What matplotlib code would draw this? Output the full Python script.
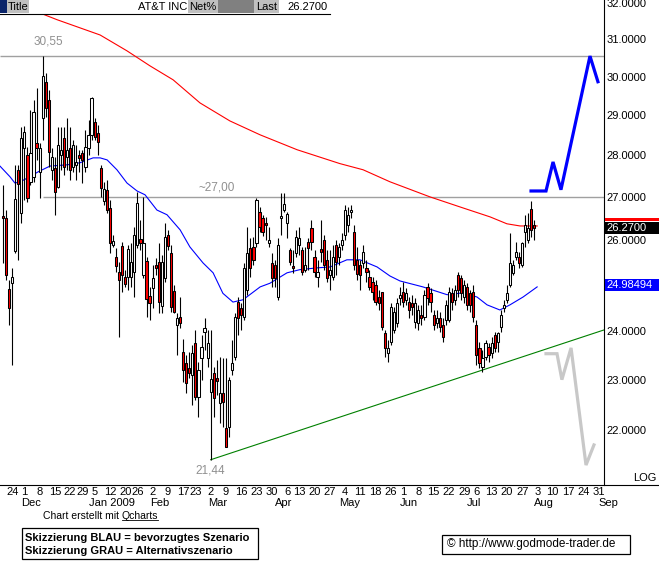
import numpy as np
import pandas as pd
import matplotlib
matplotlib.use("Agg")
import matplotlib.pyplot as plt
from matplotlib.patches import Rectangle
from matplotlib.lines import Line2D
from matplotlib.ticker import FixedLocator, NullLocator, NullFormatter, FixedFormatter

W, H, DPI = 659, 563, 100
plt.rcParams["font.family"] = ["Liberation Sans", "DejaVu Sans"]

# ------------------------------------------------------------------ data
market_holidays = ["2008-11-27", "2008-12-25", "2009-01-01", "2009-01-19",
                   "2009-02-16", "2009-04-10", "2009-05-25", "2009-07-03",
                   "2009-09-07"]
first_day = "2008-11-19"
last_axis_day = "2009-09-04"

opens = [26.56, 26.51, 24.90, 25.03, 25.75, 27.65, 26.62, 28.19, 28.01, 27.36,
         27.48, 28.31, 27.60, 28.94, 29.87, 29.40, 27.65, 27.70, 27.24, 28.01,
         28.43, 27.96, 28.19, 27.72, 27.77, 28.01, 28.06, 27.72, 28.19, 28.51,
         28.84, 28.56, 27.70, 26.91, 27.17, 26.74, 25.89, 25.62, 25.28, 25.86,
         25.17, 25.17, 25.17, 25.28, 25.89, 26.02, 25.22, 25.53, 24.76, 24.92,
         25.44, 25.51, 24.54, 25.15, 26.12, 25.71, 24.86, 24.13, 24.31, 23.57,
         23.34, 23.24, 23.10, 23.76, 22.66, 23.45, 23.99, 23.45, 22.76, 23.14,
         23.04, 22.54, 22.74, 22.05, 22.07, 23.20, 23.47, 24.62, 24.49, 24.31,
         24.88, 25.82, 25.84, 25.93, 26.65, 26.51, 26.39, 25.93, 25.48, 25.44,
         24.74, 26.51, 26.69, 26.39, 25.77, 25.42, 25.71, 25.89, 25.77, 25.33,
         25.96, 26.27, 25.62, 25.17, 25.80, 26.00, 25.55, 25.22, 25.17, 25.89,
         25.62, 25.89, 26.12, 26.34, 26.65, 26.18, 25.55, 25.44, 25.48, 25.37,
         25.17, 25.06, 24.99, 24.74, 24.84, 23.96, 23.55, 23.78, 24.03, 24.18,
         24.71, 24.84, 24.67, 24.62, 24.60, 24.20, 24.18, 24.35, 24.31, 24.94,
         24.82, 24.35, 24.18, 24.28, 24.13, 24.24, 24.24, 24.82, 24.67, 25.22,
         25.15, 24.74, 24.94, 24.82, 24.84, 24.13, 23.65, 23.26, 23.47, 23.67,
         23.55, 23.92, 23.78, 24.09, 24.49, 24.67, 24.99, 25.26, 25.62, 25.62,
         25.44, 26.18, 26.00, 26.72, 26.34]
highs = [27.29, 26.69, 25.10, 25.37, 27.77, 27.77, 28.71, 28.73, 28.21, 29.14,
         29.40, 29.71, 28.31, 30.55, 30.10, 29.66, 28.19, 27.96, 28.71, 28.71,
         28.71, 28.94, 28.71, 28.38, 28.26, 28.14, 28.14, 28.63, 28.89, 29.48,
         28.94, 28.76, 27.77, 27.36, 27.41, 26.93, 26.12, 25.82, 25.51, 25.96,
         25.33, 25.89, 25.93, 26.30, 27.12, 26.46, 27.00, 25.62, 24.94, 25.44,
         25.60, 25.93, 25.66, 26.39, 26.23, 25.89, 24.99, 24.39, 24.74, 23.84,
         23.51, 23.57, 23.71, 24.03, 23.36, 23.92, 24.28, 24.03, 24.03, 23.26,
         23.40, 23.47, 23.45, 23.45, 23.06, 23.82, 24.39, 24.74, 24.60, 25.48,
         26.30, 26.05, 26.07, 26.98, 26.76, 26.58, 26.53, 26.30, 25.71, 25.55,
         26.05, 27.10, 27.10, 26.65, 25.82, 25.77, 26.23, 26.30, 25.84, 25.84,
         26.05, 26.46, 25.77, 25.55, 26.46, 26.12, 25.77, 25.77, 25.89, 26.00,
         25.93, 26.16, 26.81, 26.76, 26.81, 26.34, 25.84, 25.55, 25.89, 25.55,
         25.33, 25.17, 25.10, 24.88, 24.84, 24.03, 23.82, 24.60, 24.51, 24.71,
         24.94, 25.06, 24.92, 24.74, 24.78, 24.71, 24.56, 24.56, 24.88, 25.03,
         24.92, 24.45, 24.45, 24.41, 24.28, 24.67, 24.94, 24.92, 24.99, 25.28,
         25.22, 25.10, 25.03, 24.88, 24.99, 24.24, 23.78, 23.61, 23.82, 23.76,
         23.88, 23.99, 23.99, 24.45, 24.67, 24.99, 26.16, 25.55, 25.96, 25.73,
         25.96, 26.58, 26.62, 26.91, 26.46]
lows = [25.48, 25.10, 24.13, 23.30, 25.71, 25.55, 26.39, 26.93, 26.88, 27.29,
        27.36, 27.89, 26.98, 28.38, 28.96, 27.72, 27.41, 26.58, 27.22, 27.65,
        27.53, 27.65, 27.41, 27.60, 27.41, 27.60, 27.34, 27.60, 28.01, 28.38,
        28.38, 28.01, 27.00, 26.81, 26.62, 25.71, 25.84, 25.28, 23.88, 24.84,
        24.94, 24.88, 24.94, 24.74, 25.82, 25.77, 25.15, 24.31, 24.24, 24.49,
        25.22, 24.39, 24.39, 25.06, 25.77, 24.41, 24.39, 23.51, 24.07, 22.96,
        22.74, 23.04, 22.50, 22.60, 22.26, 23.00, 23.61, 23.26, 21.44, 22.26,
        22.70, 22.15, 22.07, 21.68, 21.87, 23.10, 23.40, 23.92, 24.03, 24.24,
        24.78, 25.17, 25.44, 25.84, 26.18, 26.09, 26.00, 25.84, 24.94, 24.94,
        24.67, 26.12, 26.65, 26.05, 25.44, 25.26, 25.62, 25.66, 25.22, 25.28,
        25.33, 25.77, 25.17, 24.94, 25.51, 25.33, 25.06, 24.88, 25.10, 25.22,
        25.44, 25.77, 26.00, 26.18, 26.51, 25.33, 25.10, 24.88, 25.37, 25.06,
        24.88, 24.67, 24.56, 24.45, 24.03, 23.47, 23.36, 23.71, 23.96, 24.09,
        24.56, 24.51, 24.56, 24.28, 24.35, 24.07, 24.03, 24.13, 24.24, 24.56,
        24.41, 24.03, 24.07, 23.99, 23.78, 24.13, 24.20, 24.45, 24.56, 24.74,
        24.67, 24.60, 24.45, 24.41, 24.20, 23.30, 23.24, 23.16, 23.40, 23.36,
        23.45, 23.57, 23.57, 23.99, 24.41, 24.60, 24.94, 25.22, 25.55, 25.37,
        25.39, 25.84, 25.93, 26.07, 26.00]
closes = [26.51, 25.22, 24.49, 25.17, 26.95, 27.31, 28.43, 28.58, 26.98, 28.06,
          29.09, 28.19, 28.19, 30.02, 29.19, 28.09, 27.96, 27.12, 28.26, 28.14,
          27.72, 28.14, 27.65, 28.26, 27.84, 27.94, 27.89, 28.21, 28.51, 29.45,
          28.46, 28.33, 27.22, 27.19, 26.69, 25.93, 25.98, 25.42, 25.10, 25.22,
          25.01, 25.80, 25.51, 26.12, 26.86, 25.93, 25.93, 24.69, 24.60, 25.15,
          25.37, 24.62, 25.51, 26.07, 25.86, 24.51, 24.41, 24.28, 24.18, 23.20,
          22.94, 23.14, 23.55, 22.66, 23.20, 23.67, 24.07, 23.76, 23.02, 22.64,
          22.98, 22.74, 22.56, 21.68, 23.00, 23.34, 24.31, 24.28, 24.35, 25.37,
          25.71, 25.37, 25.55, 26.93, 26.30, 26.18, 26.34, 26.00, 25.15, 25.15,
          25.89, 26.56, 26.84, 26.60, 25.51, 25.37, 26.07, 26.05, 25.28, 25.44,
          25.82, 25.96, 25.28, 25.28, 25.73, 25.44, 25.15, 25.33, 25.62, 25.51,
          25.84, 26.00, 26.69, 26.58, 26.69, 25.44, 25.24, 25.22, 25.73, 25.28,
          24.94, 24.84, 24.62, 24.60, 24.09, 23.65, 23.65, 24.51, 24.41, 24.60,
          24.78, 24.62, 24.82, 24.45, 24.51, 24.60, 24.45, 24.28, 24.78, 24.71,
          24.62, 24.13, 24.28, 24.09, 23.88, 24.56, 24.84, 24.62, 24.88, 24.88,
          24.82, 24.99, 24.56, 24.56, 24.31, 23.51, 23.34, 23.45, 23.76, 23.51,
          23.76, 23.65, 23.96, 24.35, 24.56, 24.82, 25.48, 25.44, 25.73, 25.48,
          25.93, 26.34, 26.27, 26.23, 26.27]

# moving averages (trading-day position, value)
ma200_pos = [-1.0, 13.8, 17.7, 31.8, 40.6, 48.1, 55.7, 64.5, 74.3, 84.2, 96.3,
             110.3, 117.9, 126.7, 139.8, 150.6, 159.5, 165.0, 169.3, 174.9]
ma200_val = [32.18, 31.67, 31.54, 31.12, 30.69, 30.29, 29.92, 29.32, 28.86,
             28.51, 28.14, 27.80, 27.65, 27.36, 27.00, 26.74, 26.53, 26.37,
             26.32, 26.32]
ma50_pos = [-1.0, 2.3, 3.9, 5.6, 8.8, 11.5, 15.4, 21.0, 25.2, 29.5, 31.8, 34.1,
            37.3, 40.6, 43.9, 46.5, 50.4, 53.7, 58.0, 61.2, 65.5, 68.8, 72.0,
            75.3, 78.6, 84.2, 87.4, 93.0, 97.2, 102.8, 107.1, 112.6, 116.9,
            122.5, 126.7, 130.0, 137.5, 145.4, 150.6, 155.2, 158.5, 162.7,
            166.0, 170.3, 174.9]
ma50_val = [27.74, 27.48, 27.33, 27.36, 27.48, 27.60, 27.74, 27.77, 27.82,
            27.94, 27.94, 27.89, 27.65, 27.33, 27.14, 27.05, 26.69, 26.58,
            26.23, 25.84, 25.48, 25.26, 24.81, 24.62, 24.67, 24.95, 25.03,
            25.26, 25.33, 25.37, 25.39, 25.55, 25.55, 25.39, 25.19, 25.08,
            24.95, 24.78, 24.82, 24.73, 24.56, 24.45, 24.56, 24.73, 24.95]

trend_pos = [68, 197]
trend_val = [21.44, 24.03]

level_top = 30.55
level_mid = 27.00

blue_path_pos = [172.9, 177.8, 180.1, 182.7, 192.2, 194.8]
blue_path_val = [27.14, 27.14, 27.84, 27.17, 30.55, 29.87]
gray_path_pos = [177.8, 181.4, 183.0, 186.0, 190.9, 193.5]
gray_path_val = [23.53, 23.53, 23.00, 23.65, 21.34, 21.72]

price_ticks = [22, 23, 24, 26, 27, 28, 29, 30, 31, 32]
last_price = 26.27
ma50_last = 24.98494
ma200_marker = 26.47

title_name = "AT&T INC"
month_names = {12: "Dec", 1: "Jan 2009", 2: "Feb", 3: "Mar", 4: "Apr",
               5: "May", 6: "Jun", 7: "Jul", 8: "Aug", 9: "Sep"}

# ------------------------------------------------------------------ figure
fig = plt.figure(figsize=(W / DPI, H / DPI), dpi=DPI)
fig.patch.set_facecolor("white")
ax = fig.add_axes([0, 1 - 485 / H, 604 / W, 485 / H])
ax.set_yscale("log")
ax.set_ylim(20.97, 32.09)
ax.set_xlim(-0.98, 196.79)
ax.set_facecolor("white")

for s in ["top", "left", "bottom"]:
    ax.spines[s].set_visible(False)
ax.spines["right"].set_color("black")
ax.spines["right"].set_linewidth(0.8)

FS = 8
ax.yaxis.tick_right()
ax.yaxis.set_major_locator(FixedLocator(price_ticks))
ax.yaxis.set_major_formatter(FixedFormatter(["%.4f" % v for v in price_ticks]))
ax.yaxis.set_minor_locator(NullLocator())
ax.yaxis.set_minor_formatter(NullFormatter())
ax.tick_params(axis="y", length=0, pad=1.5, labelsize=FS, colors="black")
ax.set_xticks([])

# trading calendar
cal = pd.bdate_range(first_day, last_axis_day, freq="C", holidays=market_holidays)
n = len(opens)
xs = np.arange(n)
o = np.array(opens); h = np.array(highs); l = np.array(lows); c = np.array(closes)

# levels
ax.hlines(level_top, -0.98, 196.79, color="#a0a0a0", lw=1.0, zorder=1)
imax = int(np.argmax(h))
imin = int(np.argmin(l))
ax.hlines(level_mid, imax, 196.79, color="#a0a0a0", lw=1.0, zorder=1)

# moving averages
ax.plot(ma200_pos, ma200_val, color="#ff0000", lw=0.8, zorder=2)
ax.plot(ma50_pos, ma50_val, color="#0000ff", lw=0.8, zorder=2)

# trend line
ax.plot(trend_pos, trend_val, color="#008000", lw=0.8, zorder=2)

# candles
ax.vlines(xs, l, h, color="black", lw=0.8, zorder=3)
up = c >= o
bot = np.minimum(o, c)
top = np.maximum(o, c)
ax.bar(xs, top - bot, bottom=bot, width=0.72,
       color=np.where(up, "white", "#ff0000"), edgecolor="black",
       linewidth=0.75, zorder=4)

# scenario sketches
ax.plot(blue_path_pos, blue_path_val, color="#0000ff", lw=2.3, zorder=5,
        solid_joinstyle="miter")
ax.plot(gray_path_pos, gray_path_val, color="#c8c8c8", lw=2.3, zorder=5,
        solid_joinstyle="miter")

# level labels
gray_txt = "#909090"
ax.annotate("30,55", (imax, h[imax]), xytext=(6, 15), textcoords="offset pixels",
            ha="center", va="center", color=gray_txt, fontsize=8.5)
ax.annotate("~27,00", (imin + 1, level_mid), xytext=(3, 9), textcoords="offset pixels",
            ha="center", va="center", color=gray_txt, fontsize=8.5)
ax.annotate("21,44", (imin, l[imin]), xytext=(0, -11), textcoords="offset pixels",
            ha="center", va="center", color=gray_txt, fontsize=8.5)

# date labels
xt = ax.get_xaxis_transform()
dates = list(cal)
prev = None
for i, d in enumerate(dates):
    if prev is not None and d.weekday() < prev.weekday():
        ax.annotate(str(d.day), (i, 0), xycoords=xt, xytext=(0, -7),
                    textcoords="offset pixels", ha="center", va="center",
                    fontsize=FS, annotation_clip=False)
    if prev is not None and d.month != prev.month:
        ax.annotate(month_names[d.month], (i, 0), xycoords=xt, xytext=(-3, -18),
                    textcoords="offset pixels", ha="left", va="center",
                    fontsize=FS, annotation_clip=False)
    prev = d

# ------------------------------------------------------------------ figure-level decorations
def fx(x):
    return x / W

def fy(y):
    return 1 - y / H

def rect(x0, y0, x1, y1, fc, ec="none", lw=0, z=5):
    fig.patches.append(Rectangle((fx(x0), fy(y1)), (x1 - x0) / W, (y1 - y0) / H,
                                 transform=fig.transFigure, facecolor=fc,
                                 edgecolor=ec, linewidth=lw, zorder=z))

def hline(x0, x1, y, color="black", lw=0.8, z=6):
    fig.lines.append(Line2D([fx(x0), fx(x1)], [fy(y), fy(y)], transform=fig.transFigure,
                            color=color, lw=lw, zorder=z))

def txt(x, y, s, **kw):
    kw.setdefault("fontsize", FS)
    kw.setdefault("va", "center")
    kw.setdefault("zorder", 7)
    return fig.text(fx(x), fy(y), s, **kw)

# header
rect(0, 0, 330, 14, "white")
rect(0, 0, 7, 13, "#0a246a")
rect(7, 0, 29, 13, "#c0c0c0")
txt(8, 7, "Title")
txt(187, 7, title_name, ha="right")
rect(188, 0, 218, 13, "#c0c0c0")
txt(189, 7, "Net%")
rect(218, 0, 254, 13, "#808080")
rect(254, 0, 279, 13, "#c0c0c0")
txt(256, 7, "Last")
txt(328, 7, "%.4f" % last_price, ha="right")
hline(0, 330, 14)

# bottom axis line, LOG label
hline(0, W, 485)
txt(656, 478, "LOG", ha="right")

# value boxes on the right axis
fig.canvas.draw()
def ypix(v):
    return H - ax.transData.transform((0, v))[1]

ym = ypix(ma200_marker)
rect(605, ym - 1.5, W, ym + 1.5, "#ff0000")
yl = ypix(last_price)
rect(605, yl - 6, W, yl + 6, "black")
txt(606, yl, "%.4f" % last_price, color="white")
yb = ypix(ma50_last)
rect(605, yb - 6, W, yb + 6, "#0000ff")
txt(606, yb, "%.5f" % ma50_last, color="white")

# footer
t1 = txt(43, 516, "Chart erstellt mit ", fontsize=7.5)
t2 = txt(43, 516, "Qcharts", fontsize=7.5)
fig.canvas.draw()
r = fig.canvas.get_renderer()
bb1 = t1.get_window_extent(r)
t2.set_x(bb1.x1 / W)
bb2 = t2.get_window_extent(r)
fig.lines.append(Line2D([bb2.x0 / W, bb2.x1 / W], [(bb2.y0 + 1) / H] * 2,
                        transform=fig.transFigure, color="black", lw=0.6))

rect(22, 528, 258, 559, "none", ec="black", lw=0.9)
txt(25, 538, "Skizzierung BLAU = bevorzugtes Szenario", fontweight="bold", fontsize=8)
txt(25, 551, "Skizzierung GRAU = Alternativszenario", fontweight="bold", fontsize=8)

rect(442, 535, 630, 554, "none", ec="black", lw=0.9)
txt(447, 544.5, "\u00a9 http://www.godmode-trader.de", fontsize=8.5)

fig.savefig("out.png", dpi=DPI, facecolor="white")
